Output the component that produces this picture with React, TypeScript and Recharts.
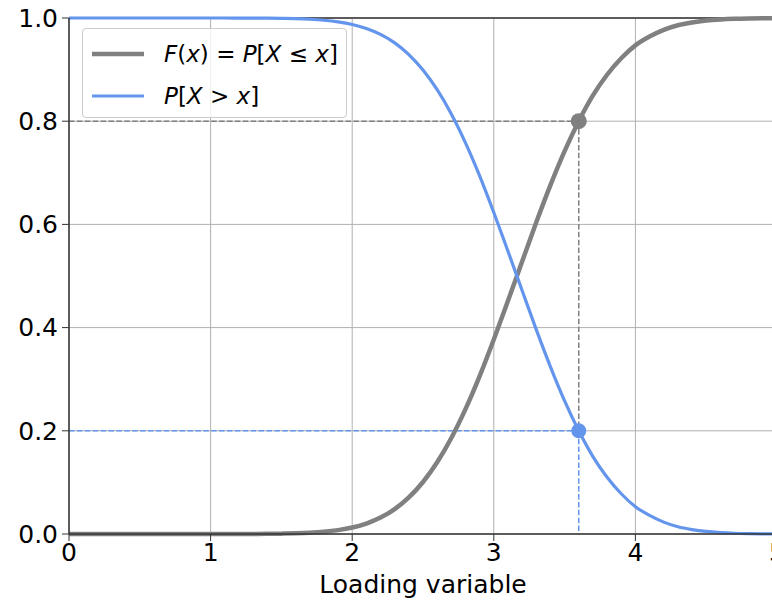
import React from 'react';
import { LineChart, Line, XAxis, YAxis, CartesianGrid, ReferenceLine, ReferenceDot } from 'recharts';

// values, step 0.1
const loading = [
    0, 0.1, 0.2, 0.3, 0.4, 0.5, 0.6, 0.7, 0.8, 0.9,
    1, 1.1, 1.2, 1.3, 1.4, 1.5, 1.6, 1.7, 1.8, 1.9,
    2, 2.1, 2.2, 2.3, 2.4, 2.5, 2.6, 2.7, 2.8, 2.9,
    3, 3.1, 3.2, 3.3, 3.4, 3.5, 3.6, 3.7, 3.8, 3.9,
    4, 4.1, 4.2, 4.3, 4.4, 4.5, 4.6, 4.7, 4.8, 4.9, 5,
];
const cdf = [
    0, 0, 0, 0, 0, 0, 0, 0, 0, 0,
    0, 0, 0.0001, 0.0002, 0.0003, 0.0007, 0.0013, 0.0024, 0.0043, 0.0075,
    0.0125, 0.0203, 0.0318, 0.0482, 0.0708, 0.1008, 0.139, 0.186, 0.242, 0.306,
    0.377, 0.452, 0.528, 0.604, 0.676, 0.742, 0.8, 0.85, 0.89, 0.922,
    0.947, 0.964, 0.977, 0.986, 0.9914, 0.995, 0.9972, 0.9985, 0.9992, 0.9996, 0.9998,
];
const exceed = [
    1, 1, 1, 1, 1, 1, 1, 1, 1, 1,
    1, 1, 0.9999, 0.9998, 0.9997, 0.9993, 0.9987, 0.9976, 0.9957, 0.9925,
    0.9875, 0.9797, 0.9682, 0.9518, 0.9292, 0.8992, 0.861, 0.814, 0.758, 0.694,
    0.623, 0.548, 0.472, 0.396, 0.324, 0.258, 0.2, 0.15, 0.11, 0.078,
    0.053, 0.036, 0.023, 0.014, 0.0086, 0.005, 0.0028, 0.0015, 0.0008, 0.0004, 0.0002,
];
const xTicks = [0, 1, 2, 3, 4, 5];
const yTicks = [0, 0.2, 0.4, 0.6, 0.8, 1];
const designPoint = 3.6;
const cdfAtPoint = 0.8;
const exceedAtPoint = 0.2;

const data = loading.map((x, i) => ({ x, cdf: cdf[i], exceed: exceed[i] }));

const GRAY = '#808080';
const BLUE = '#6495ed';
const FONT = '"DejaVu Sans", sans-serif';

const it = (s: string) => <span style={{ fontStyle: 'italic' }}>{s}</span>;

const legendItems = [
    { key: 'cdf', color: GRAY, width: 4.5, label: <>{it('F')}({it('x')}) = {it('P')}[{it('X')} ≤ {it('x')}]</> },
    { key: 'exceed', color: BLUE, width: 3, label: <>{it('P')}[{it('X')} &gt; {it('x')}]</> },
];

const LegendBox: React.FC = () => (
    <div
        style={{
            position: 'absolute',
            left: 82,
            top: 28,
            width: 263,
            height: 88,
            border: '1px solid #cccccc',
            borderRadius: 4,
            background: 'rgba(255,255,255,0.8)',
            fontFamily: FONT,
            fontSize: 23,
            color: '#000',
        }}
    >
        {legendItems.map((p, i) => (
            <div key={p.key} style={{ position: 'absolute', left: 9, top: i === 0 ? 10 : 52, height: 30, display: 'flex', alignItems: 'center' }}>
                <svg width={52} height={10} style={{ display: 'block' }}>
                    <line x1={0} x2={52} y1={5} y2={5} stroke={p.color} strokeWidth={p.width} />
                </svg>
                <span style={{ marginLeft: 20, whiteSpace: 'nowrap' }}>{p.label}</span>
            </div>
        ))}
    </div>
);

const App: React.FC = () => {
    return (
        <div style={{ position: 'fixed', left: 0, top: 0, width: 772, height: 601, overflow: 'hidden', background: '#fff' }}>
            <LineChart width={790} height={601} data={data} margin={{ top: 18, right: 13, left: 0, bottom: 0 }}>
                <CartesianGrid stroke="#b0b0b0" strokeWidth={1} />
                <XAxis
                    dataKey="x"
                    type="number"
                    domain={[0, 5]}
                    ticks={xTicks}
                    height={67}
                    tickSize={7}
                    tickMargin={2}
                    tick={{ fill: '#000', fontSize: 25, fontFamily: FONT }}
                    stroke="#333"
                    axisLine={{ stroke: '#333', strokeWidth: 1.5 }}
                    label={{ value: 'Loading variable', position: 'insideBottom', offset: 8, fill: '#000', fontSize: 25, fontFamily: FONT }}
                />
                <YAxis
                    type="number"
                    domain={[0, 1]}
                    ticks={yTicks}
                    width={69}
                    tickSize={7}
                    tickMargin={4}
                    tickFormatter={(v: number) => v.toFixed(1)}
                    tick={{ fill: '#000', fontSize: 25, fontFamily: FONT }}
                    stroke="#333"
                    axisLine={{ stroke: '#333', strokeWidth: 1.5 }}
                />
                <ReferenceLine y={1} stroke="#333" strokeWidth={1.5} />
                <ReferenceLine segment={[{ x: 0, y: cdfAtPoint }, { x: designPoint, y: cdfAtPoint }]} stroke={GRAY} strokeWidth={1.5} strokeDasharray="5.5 2.4" />
                <ReferenceLine segment={[{ x: designPoint, y: cdfAtPoint }, { x: designPoint, y: exceedAtPoint }]} stroke={GRAY} strokeWidth={1.5} strokeDasharray="5.5 2.4" />
                <ReferenceLine segment={[{ x: 0, y: exceedAtPoint }, { x: designPoint, y: exceedAtPoint }]} stroke={BLUE} strokeWidth={1.5} strokeDasharray="5.5 2.4" />
                <ReferenceLine segment={[{ x: designPoint, y: exceedAtPoint }, { x: designPoint, y: 0 }]} stroke={BLUE} strokeWidth={1.5} strokeDasharray="5.5 2.4" />
                <Line type="monotone" dataKey="cdf" name="cdf" stroke={GRAY} strokeWidth={4.5} dot={false} isAnimationActive={false} />
                <Line type="monotone" dataKey="exceed" name="exceed" stroke={BLUE} strokeWidth={3.2} dot={false} isAnimationActive={false} />
                <ReferenceDot x={designPoint} y={cdfAtPoint} r={8} fill={GRAY} stroke="none" />
                <ReferenceDot x={designPoint} y={exceedAtPoint} r={7.5} fill={BLUE} stroke="none" />
            </LineChart>
            <LegendBox />
        </div>
    );
};

export default App;
